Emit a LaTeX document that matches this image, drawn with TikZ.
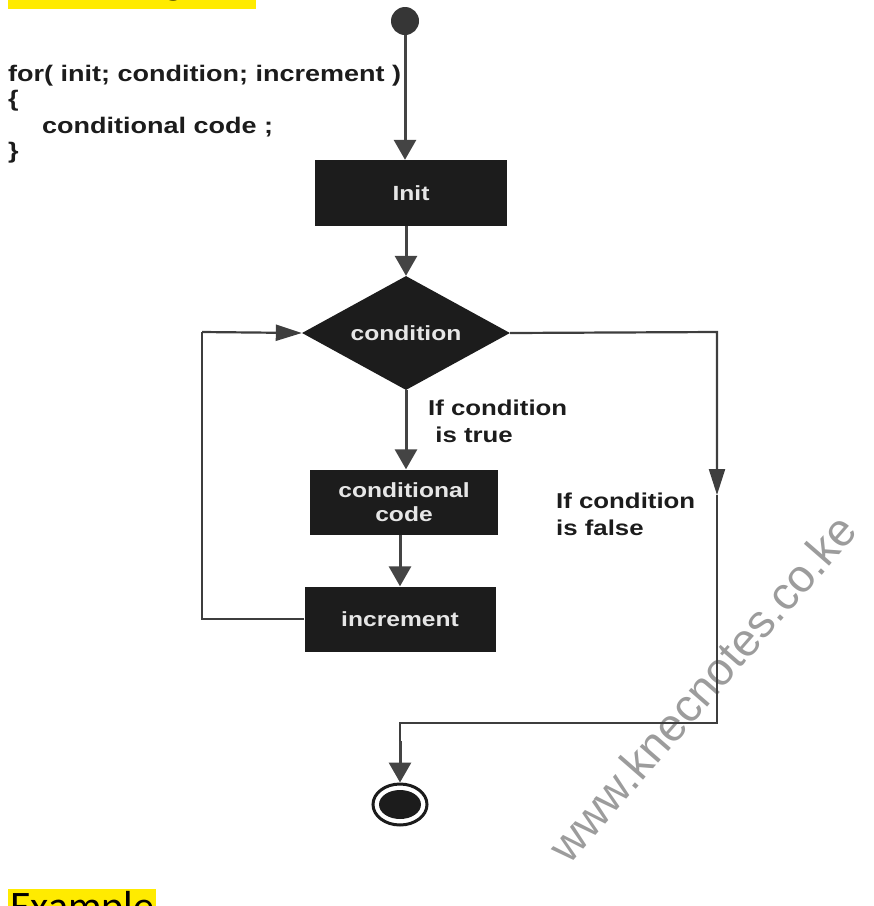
\documentclass[tikz,border=0pt]{standalone}
\usepackage{fontspec}
\setmainfont{Liberation Sans}
\newfontfamily\widesans[FakeStretch=1.2]{Liberation Sans}
\newfontfamily\notefont{Carlito}
\usetikzlibrary{arrows.meta,shapes.geometric}
\definecolor{boxblack}{HTML}{1C1C1C}
\definecolor{linegray}{HTML}{444444}
\definecolor{boxtext}{HTML}{E6E6E6}
\definecolor{marker}{HTML}{FFEB00}
\definecolor{wmgray}{HTML}{8A8A8A}
\begin{document}
\begin{tikzpicture}[x=1pt,y=-1pt,
  boxfont/.style={font=\widesans\bfseries\fontsize{20.5}{24}\selectfont,text=boxtext},
  stepbox/.style={fill=boxblack,draw=none,boxfont,align=center,inner sep=0pt,minimum width=190,minimum height=65},
  decision/.style={diamond,fill=boxblack,draw=none,inner sep=0pt,minimum width=208,minimum height=114},
  flow/.style={draw=linegray,line width=3,-{Triangle[width=22,length=20]},color=linegray},
  wire/.style={draw=boxblack!85,line width=2.2},
  wirearrow/.style={draw=boxblack!85,line width=2.2,-{Triangle[width=16,length=26]}},
  label/.style={font=\widesans\bfseries\fontsize{21.5}{27}\selectfont,align=left,inner sep=0pt,anchor=north west,text=boxblack},
  code/.style={font=\widesans\bfseries\fontsize{22.5}{24}\selectfont,inner sep=0pt,anchor=base west,text=boxblack}
]
\useasboundingbox (0,0) rectangle (874,906);

% highlighted headings (cut by the page edge)
\fill[marker] (8,-40) rectangle (256,9);
\node[font=\notefont\fontsize{44}{44}\selectfont,anchor=base west,inner sep=0pt] (head) at (10,-6.5) {Flow Diagram};
\fill[marker] (8,889) rectangle (156,930);
\node[font=\notefont\fontsize{42}{42}\selectfont,anchor=base west,inner sep=0pt] (example) at (10,920) {Example};

% watermark
\node[font=\fontsize{46}{46}\selectfont,text=wmgray!85,rotate=49,anchor=center,inner sep=0pt] (wm) at (702,688) {www.knecnotes.co.ke};

% syntax
\node[code] (c1) at (8,81) {for( init; condition; increment )};
\node[code] (c2) at (8,106) {\{};
\node[code] (c3) at (42,133) {conditional code ;};
\node[code] (c4) at (8,158) {\}};

% nodes
\node[circle,fill=linegray!80!black,minimum size=28,inner sep=0pt] (start) at (405,21) {};
\node[stepbox,minimum width=192,minimum height=66] (init) at (411,193) {Init};
\node[decision] (cond) at (406,333) {};
\node[boxfont,inner sep=0pt] (condtext) at (cond.center) {condition};
\node[stepbox,minimum width=188] (cc) at (404,502) {conditional\\code};
\node[stepbox,minimum width=191] (incr) at (400,619) {increment};
\node[ellipse,draw=boxblack,line width=3,minimum width=54,minimum height=41,inner sep=0pt] (end) at (400,804.5) {};
\fill[boxblack] (end.center) ellipse [x radius=21,y radius=14.5];

% helper points on the "false" path
\coordinate (fr) at (717,332);
\coordinate (fmid) at (717,495);
\coordinate (fb) at (717,723);
\coordinate (fl) at (400,723);
\coordinate (lp) at (202,332);

% connectors
\draw[flow] (start.south) -- (start.south |- init.north);
\draw[flow] (cond.north |- init.south) -- (cond.north);
\draw[flow] (cond.south) -- (cond.south |- cc.north);
\draw[flow] (cc.south -| incr.north) -- (incr.north);
\draw[wire] (incr.west) -| (lp);
\draw[wirearrow] (lp) -- (cond.west);
\draw[wirearrow] (cond.east) -- (fr) -- (fmid);
\draw[wire] (fmid) -- (fb) -- (fl) -- ++(0,20);
\draw[flow] (fl) ++(0,18) -- (end.north);

% labels
\node[label] (tl) at (428,400) {If condition\\\ is true};
\node[label] (fl2) at (556,493) {If condition\\is false};
\end{tikzpicture}
\end{document}
